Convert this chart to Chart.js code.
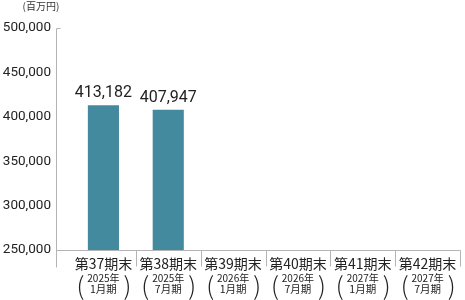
<!DOCTYPE html>
<html>
<head>
<meta charset="utf-8">
<script src="https://cdn.jsdelivr.net/npm/chart.js@4/dist/chart.umd.min.js"></script>
<style>
  html, body { margin: 0; padding: 0; background: #fff; }
  #wrap { width: 465px; height: 300px; }
</style>
</head>
<body>
<div id="wrap"><canvas id="myChart" width="465" height="300"></canvas></div>
<script>
// dati del grafico
var categories = ['第37期末', '第38期末', '第39期末', '第40期末', '第41期末', '第42期末'];
var periodYears = ['2025年', '2025年', '2026年', '2026年', '2027年', '2027年'];
var periodMonths = ['1月期', '7月期', '1月期', '7月期', '1月期', '7月期'];
var values = [413182, 407947, null, null, null, null];
var yMin = 250000;
var yMax = 500000;
var yStep = 50000;
var unitLabel = '(百万円)';

var barColor = '#448a9e';
var lineColor = '#b4b4b4';
var textColor = '#222';

function fmt(n) {
  return n.toLocaleString('en-US');
}

// assi, etichette e valori disegnati a mano sopra il canvas
var decorPlugin = {
  id: 'decor',
  afterDraw: function(chart) {
    var ctx = chart.ctx;
    var x = chart.scales.x;
    var y = chart.scales.y;
    var axisX = 56.5;
    var top = Math.round(y.getPixelForValue(yMax)) + 0.5;
    var base = Math.round(y.getPixelForValue(yMin)) + 0.5;
    var step = x.getPixelForTick(1) - x.getPixelForTick(0);

    ctx.save();
    ctx.strokeStyle = lineColor;
    ctx.lineWidth = 1;

    // asse y con piccolo tick in alto
    ctx.beginPath();
    ctx.moveTo(axisX + 4, top);
    ctx.lineTo(axisX, top);
    ctx.lineTo(axisX, base + 17);
    ctx.stroke();

    // linea di base
    var rightEdge = Math.round(x.getPixelForTick(categories.length - 1) + step / 2) + 0.5;
    ctx.beginPath();
    ctx.moveTo(axisX, base);
    ctx.lineTo(rightEdge, base);
    ctx.stroke();

    // separatori tra le categorie
    for (var i = 1; i <= categories.length; i++) {
      var sx = Math.round(x.getPixelForTick(i - 1) + step / 2) + 0.5;
      ctx.beginPath();
      ctx.moveTo(sx, base);
      ctx.lineTo(sx, base + 16);
      ctx.stroke();
    }

    // unita'
    ctx.fillStyle = '#333';
    ctx.font = '10px "Noto Sans CJK JP"';
    ctx.textAlign = 'center';
    ctx.textBaseline = 'middle';
    ctx.fillText(unitLabel, 41, 6);

    // etichette delle categorie
    ctx.fillStyle = textColor;
    for (var j = 0; j < categories.length; j++) {
      var cx = x.getPixelForTick(j);
      ctx.font = '14px "Noto Sans CJK JP"';
      ctx.fillText(categories[j], cx, 264);
      ctx.font = '10px "Noto Sans CJK JP"';
      ctx.fillText(periodYears[j], cx, 278);
      ctx.font = '10.5px "Noto Sans CJK JP"';
      ctx.fillText(periodMonths[j], cx, 289);
      ctx.font = '300 25px "Noto Sans CJK JP"';
      ctx.fillText('(', cx - 23, 285);
      ctx.fillText(')', cx + 24, 285);
    }

    // valori sopra le barre
    var meta = chart.getDatasetMeta(0);
    ctx.font = '16px Roboto';
    ctx.textBaseline = 'alphabetic';
    meta.data.forEach(function(bar, k) {
      if (values[k] == null) return;
      ctx.fillText(fmt(values[k]), bar.x, bar.y - 8);
    });
    ctx.restore();
  }
};

var ctx = document.getElementById('myChart').getContext('2d');
var chart = new Chart(ctx, {
  type: 'bar',
  data: {
    labels: categories,
    datasets: [{
      data: values,
      backgroundColor: barColor,
      borderWidth: 0,
      categoryPercentage: 1,
      barPercentage: 0.48
    }]
  },
  options: {
    responsive: false,
    animation: false,
    layout: { padding: { top: 22, right: 5, left: 0, bottom: 0 } },
    plugins: {
      legend: { display: false },
      tooltip: { enabled: false }
    },
    scales: {
      x: {
        grid: { display: false },
        border: { display: false },
        ticks: { display: false },
        afterFit: function(scale) { scale.height = 50; }
      },
      y: {
        min: yMin,
        max: yMax,
        grid: { display: false, drawTicks: false },
        border: { display: false },
        ticks: {
          stepSize: yStep,
          padding: 20,
          color: textColor,
          font: { family: 'Roboto', size: 13.5 },
          callback: function(v) { return fmt(v); }
        },
        afterFit: function(scale) { scale.width = 71; }
      }
    }
  },
  plugins: [decorPlugin]
});
</script>
</body>
</html>
